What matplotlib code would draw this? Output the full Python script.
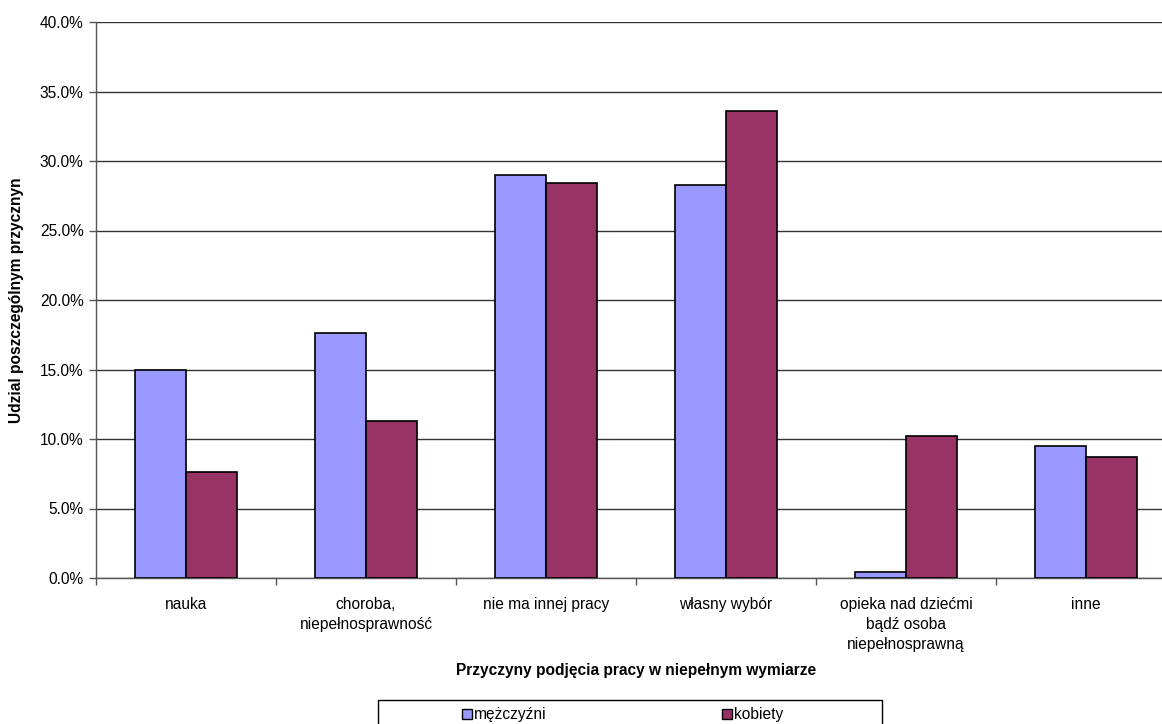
import matplotlib
matplotlib.use("Agg")
import matplotlib.pyplot as plt
import numpy as np
from matplotlib.patches import Rectangle
from matplotlib.ticker import FuncFormatter

plt.rcParams['font.family'] = ['Liberation Sans', 'DejaVu Sans']

categories = ["nauka", "choroba,\nniepełnosprawność", "nie ma innej pracy",
              "własny wybór", "opieka nad dziećmi\nbądź osoba\nniepełnosprawną", "inne"]
men = [15.0, 17.6, 29.0, 28.3, 0.4, 9.5]
women = [7.6, 11.3, 28.4, 33.6, 10.2, 8.7]
series_names = ["mężczyźni", "kobiety"]
yticks = [0, 5, 10, 15, 20, 25, 30, 35, 40]

men_color = "#9999FF"
women_color = "#993366"
FS = 11.2

W, H = 1162, 724
fig = plt.figure(figsize=(W / 100, H / 100), dpi=100)
# plot area in pixels: left 96, right 1176 (runs past the edge), top 22, bottom 578
left, right, top, bottom = 96, 1176, 22, 578
ax = fig.add_axes([left / W, 1 - bottom / H, (right - left) / W, (bottom - top) / H])

x = np.arange(len(categories))
bw = 1 / 3.5
ax.bar(x - bw / 2, men, width=bw, color=men_color, edgecolor="black", linewidth=1.2, zorder=3)
ax.bar(x + bw / 2, women, width=bw, color=women_color, edgecolor="black", linewidth=1.2, zorder=3)

ax.set_xlim(-0.5, len(categories) - 0.5)
ax.set_ylim(0, 40)
ax.set_yticks(yticks)
ax.yaxis.set_major_formatter(FuncFormatter(lambda v, p: f"{v:.1f}%"))
ax.yaxis.grid(True, color="#333333", linewidth=1.0, zorder=0)

ax.set_xticks(np.arange(len(categories) + 1) - 0.5)
ax.set_xticklabels([])
ax.set_xticks(x, minor=True)
ax.set_xticklabels(categories, minor=True, fontsize=FS, linespacing=1.4, va="top")
ax.tick_params(axis="x", which="minor", length=0, pad=14)
ax.tick_params(axis="x", which="major", length=5, width=1, color="#555555", direction="out")
ax.tick_params(axis="y", length=5, width=1, color="#555555", labelsize=FS, pad=4)

for s in ["top", "right"]:
    ax.spines[s].set_visible(False)
ax.spines["left"].set_color("#555555")
ax.spines["bottom"].set_color("#555555")
ax.spines["left"].set_linewidth(1.0)
ax.spines["bottom"].set_linewidth(1.0)

fig.text(636 / W, 1 - 671 / H, "Przyczyny podjęcia pracy w niepełnym wymiarze",
         ha="center", va="center", fontsize=FS, fontweight="bold")
fig.text(17 / W, 1 - 300 / H, "Udzial poszczególnym przycznyn",
         ha="center", va="center", rotation=90, fontsize=FS, fontweight="bold")

# legend box
fig.patches.append(Rectangle((378 / W, 1 - 740 / H), (882 - 378) / W, 40 / H,
                             transform=fig.transFigure, facecolor="white",
                             edgecolor="black", linewidth=1.0))
for name, col, px in [(series_names[0], men_color, 462), (series_names[1], women_color, 722)]:
    fig.patches.append(Rectangle((px / W, 1 - 719 / H), 10 / W, 10 / H,
                                 transform=fig.transFigure, facecolor=col,
                                 edgecolor="black", linewidth=1.0))
    fig.text((px + 12) / W, 1 - 714 / H, name, ha="left", va="center", fontsize=FS)

fig.savefig("out.png", dpi=100, facecolor="white")
